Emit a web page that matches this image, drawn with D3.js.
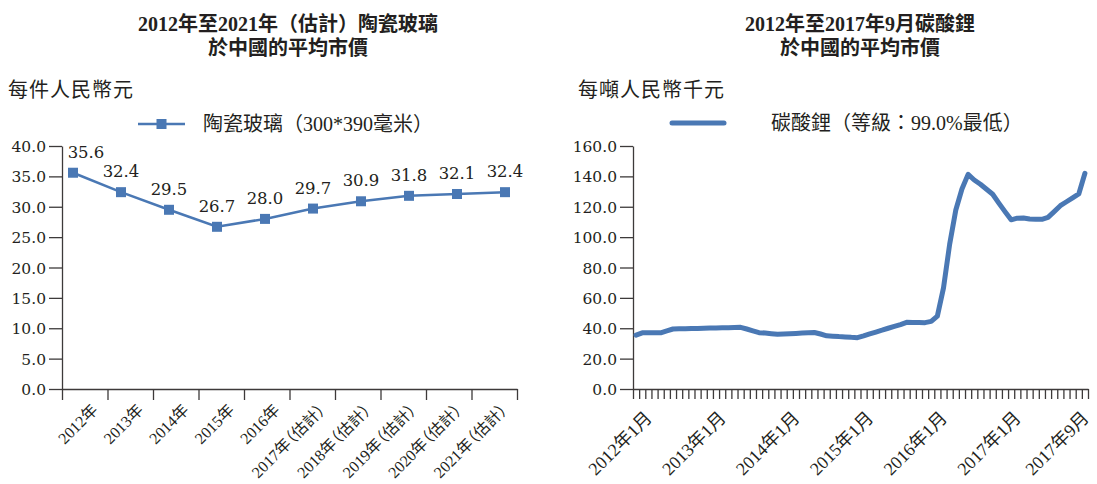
<!DOCTYPE html>
<html lang="zh-Hant">
<head>
<meta charset="UTF-8">
<title>陶瓷玻璃及碳酸鋰平均市價</title>
<script src="https://d3js.org/d3.v7.min.js"></script>
<style>
  html, body { margin: 0; padding: 0; background: #fff; }
  svg { display: block; }
  text { font-family: "Liberation Serif", "Noto Sans CJK TC", serif; fill: #231f20; }
  .title { font-size: 20px; font-weight: bold; }
  .num { font-family: "DejaVu Serif", "Liberation Serif", serif; }
  .cat { font-feature-settings: "palt"; }
  .axis path, .axis line { stroke: #3d3a3a; stroke-width: 1.3px; }
</style>
</head>
<body>
<svg width="1097" height="484"></svg>
<script>
  // left chart: ceramic glass price, RMB per piece
  const glassYears = ["2012年", "2013年", "2014年", "2015年", "2016年",
    "2017年（估計）", "2018年（估計）", "2019年（估計）", "2020年（估計）", "2021年（估計）"];
  const glassPrice = [35.6, 32.4, 29.5, 26.7, 28.0, 29.7, 30.9, 31.8, 32.1, 32.4];
  const glassTicks = [0, 5, 10, 15, 20, 25, 30, 35, 40];

  // right chart: lithium carbonate price, thousand RMB per tonne
  const lithiumPrice = [
    35.5, 37.0, 37.0, 37.0, 37.0, 38.3, 39.5, 39.6, 39.7, 39.8,
    39.9, 40.0, 40.1, 40.2, 40.3, 40.4, 40.5, 40.6, 39.5, 38.3,
    37.1, 36.8, 36.4, 36.0, 36.2, 36.4, 36.6, 36.8, 37.0, 37.2,
    36.2, 35.0, 34.8, 34.5, 34.3, 34.0, 33.8, 35.0, 36.3, 37.5,
    38.7, 40.0, 41.2, 42.4, 43.9, 43.8, 43.8, 43.7, 44.5, 48.0,
    66.6, 95.3, 117.9, 131.7, 141.3, 137.6, 134.8, 131.5, 128.2, 122.4,
    116.8, 111.4, 112.5, 112.6, 111.9, 111.8, 111.7, 113.0, 116.8, 120.7,
    123.3, 125.9, 128.4, 142.0
  ];
  const lithiumLabels = ["2012年1月", "2013年1月", "2014年1月", "2015年1月", "2016年1月", "2017年1月", "2017年9月"];
  const lithiumLabelIdx = [0, 12, 24, 36, 48, 60, 73];
  const lithiumTicks = [0, 20, 40, 60, 80, 100, 120, 140, 160];

  const blue = "#4a78b4";
  const svg = d3.select("svg");
  const fmt = d3.format(".1f");

  function titles(cx, line1, yTitle, yTitleX) {
    svg.append("text").attr("class", "title").attr("x", cx).attr("y", 31)
      .attr("text-anchor", "middle").text(line1);
    svg.append("text").attr("class", "title").attr("x", cx).attr("y", 55)
      .attr("text-anchor", "middle").text("於中國的平均市價");
    svg.append("text").attr("x", yTitleX).attr("y", 97)
      .style("font-size", "20px").style("letter-spacing", "1px").text(yTitle);
  }

  function yAxis(scale, x, ticks) {
    const g = svg.append("g").attr("class", "axis")
      .attr("transform", `translate(${x},0)`)
      .call(d3.axisLeft(scale).tickValues(ticks).tickFormat(fmt)
        .tickSize(13).tickSizeOuter(0).tickPadding(3));
    g.selectAll("text")
      .attr("class", "num")
      .style("font-size", "15.5px")
      .attr("dy", "0.36em");
  }

  // ---------- left chart ----------
  const y1 = d3.scaleLinear().domain([0, 40]).range([389, 146]);
  const xBand = d3.scaleBand().domain(glassYears).range([62, 517]);
  const xPt = d3.scalePoint().domain(glassYears).range([73, 505]);
  const xTick1 = d3.scaleLinear().domain([0, glassYears.length]).range([62, 517]);

  titles(288, "2012年至2021年（估計）陶瓷玻璃", "每件人民幣元", 8);
  yAxis(y1, 62, glassTicks);

  svg.append("g").attr("class", "axis")
    .attr("transform", "translate(0,389)")
    .call(d3.axisBottom(xTick1).tickValues(d3.range(glassYears.length + 1))
      .tickFormat("").tickSize(11).tickSizeOuter(0));

  svg.append("g").selectAll("text")
    .data(glassYears).join("text")
    .attr("class", "cat")
    .attr("text-anchor", "end")
    .style("font-size", "16px")
    .attr("transform", d => `translate(${xBand(d) + xBand.bandwidth() / 2 + 14},411) rotate(-45)`)
    .text(d => d);

  const glassPts = glassYears.map((d, i) => ({ k: d, v: glassPrice[i] }));

  svg.append("path").datum(glassPts)
    .attr("fill", "none").attr("stroke", blue).attr("stroke-width", 2.5)
    .attr("d", d3.line().x(d => xPt(d.k)).y(d => y1(d.v)));

  svg.append("g").selectAll("rect")
    .data(glassPts).join("rect")
    .attr("x", d => xPt(d.k) - 5).attr("y", d => y1(d.v) - 5)
    .attr("width", 10).attr("height", 10).attr("fill", blue);

  svg.append("g").selectAll("text")
    .data(glassPts).join("text")
    .attr("class", "num")
    .attr("text-anchor", "middle")
    .style("font-size", "16.5px")
    .attr("x", d => Math.max(xPt(d.k), 86))
    .attr("y", d => y1(d.v) - 15)
    .text(d => fmt(d.v));

  // legend
  svg.append("line").attr("x1", 138).attr("x2", 185).attr("y1", 124).attr("y2", 124)
    .attr("stroke", blue).attr("stroke-width", 2.5);
  svg.append("rect").attr("x", 156.5).attr("y", 119).attr("width", 10).attr("height", 10).attr("fill", blue);
  svg.append("text").attr("x", 203).attr("y", 131).style("font-size", "20px")
    .text("陶瓷玻璃（300*390毫米）");

  // ---------- right chart ----------
  const n2 = lithiumPrice.length;
  const y2 = d3.scaleLinear().domain([0, 160]).range([389, 146]);
  const x2 = d3.scaleLinear().domain([0, n2]).range([633, 1088]);

  titles(860, "2012年至2017年9月碳酸鋰", "每噸人民幣千元", 578);
  yAxis(y2, 633, lithiumTicks);

  svg.append("g").attr("class", "axis")
    .attr("transform", "translate(0,389)")
    .call(d3.axisBottom(x2).tickValues(d3.range(n2 + 1))
      .tickFormat("").tickSize(10).tickSizeOuter(0));

  svg.append("g").selectAll("text")
    .data(lithiumLabels).join("text")
    .attr("text-anchor", "end")
    .style("font-size", "18px")
    .attr("transform", (d, i) => `translate(${Math.min(x2(lithiumLabelIdx[i] + 0.5) + 17, 1090)},419) rotate(-45)`)
    .text(d => d);

  svg.append("path").datum(lithiumPrice)
    .attr("fill", "none").attr("stroke", blue).attr("stroke-width", 5)
    .attr("stroke-linejoin", "round").attr("stroke-linecap", "round")
    .attr("d", d3.line().x((d, i) => x2(i + 0.5)).y(d => y2(d)));

  svg.append("line").attr("x1", 672).attr("x2", 724).attr("y1", 123).attr("y2", 123)
    .attr("stroke", blue).attr("stroke-width", 5).attr("stroke-linecap", "round");
  svg.append("text").attr("x", 771).attr("y", 130).style("font-size", "20px")
    .text("碳酸鋰（等級：99.0%最低）");
</script>
</body>
</html>
